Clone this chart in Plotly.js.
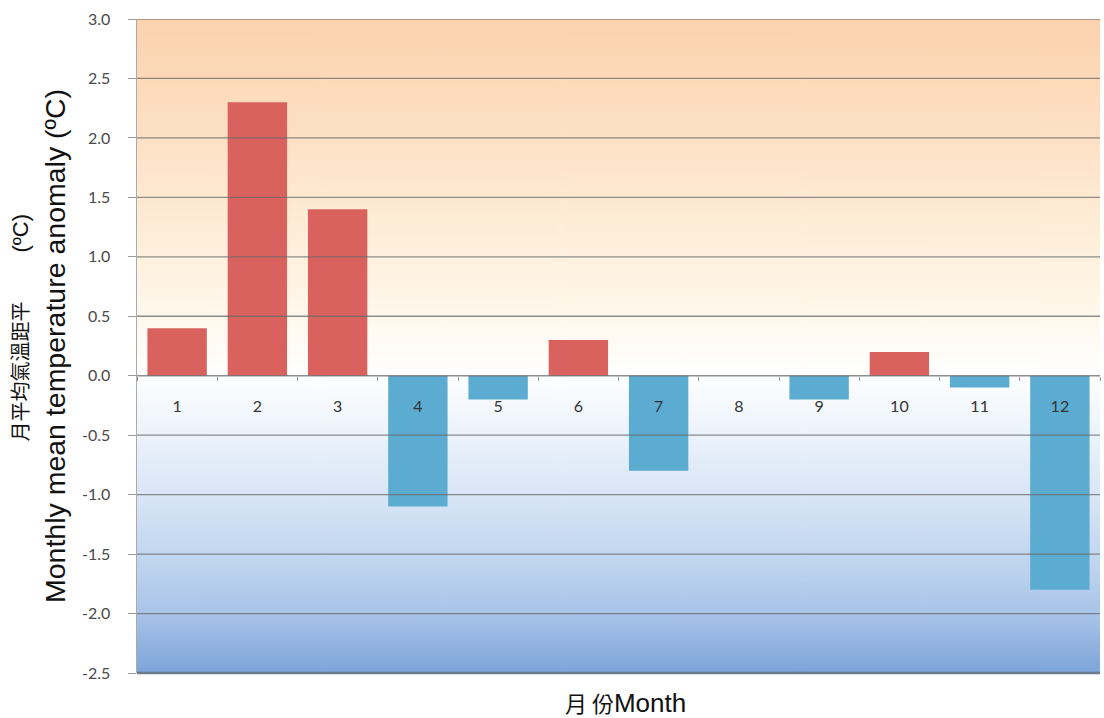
<!DOCTYPE html>
<html>
<head>
<meta charset="utf-8">
<script src="https://cdn.plot.ly/plotly-3.0.1.min.js"></script>
<style>html,body{margin:0;padding:0;background:#fff;}#chart{width:1104px;height:718px;}</style>
</head>
<body>
<div id="chart"></div>
<script>
var months = ["1","2","3","4","5","6","7","8","9","10","11","12"];
var anomaly = [0.4, 2.3, 1.4, -1.1, -0.2, 0.3, -0.8, 0.0, -0.2, 0.2, -0.1, -1.8];
var yTickValues = [-2.5, -2.0, -1.5, -1.0, -0.5, 0.0, 0.5, 1.0, 1.5, 2.0, 2.5, 3.0];
var yTickText = ["-2.5","-2.0","-1.5","-1.0","-0.5","0.0","0.5","1.0","1.5","2.0","2.5","3.0"];
var yRange = [-2.5, 3.0];

// background gradient image (top = 3.0, bottom = -2.5)
function frac(v){ return (yRange[1] - v) / (yRange[1] - yRange[0]); }
var cv = document.createElement('canvas');
cv.width = 8; cv.height = 550;
var ctx = cv.getContext('2d');
var g = ctx.createLinearGradient(0, 0, 0, 550);
g.addColorStop(frac(3.0), '#FBD2AD');
g.addColorStop(frac(2.0), '#FDE1C5');
g.addColorStop(frac(1.0), '#FEF1DE');
g.addColorStop(frac(0.5), '#FFF8EC');
g.addColorStop(frac(0.02), '#FFFFFF');
g.addColorStop(frac(-0.5), '#EBF3FC');
g.addColorStop(frac(-1.0), '#D9E6F6');
g.addColorStop(frac(-1.5), '#C3D7F0');
g.addColorStop(frac(-2.0), '#A9C4E9');
g.addColorStop(frac(-2.5), '#7DA4DA');
ctx.fillStyle = g;
ctx.fillRect(0, 0, 8, 550);
var bgURL = cv.toDataURL('image/png');

var colors = anomaly.map(function(v){ return v >= 0 ? '#D9625E' : '#5CABD1'; });

var zeroPos = (0 - yRange[0]) / (yRange[1] - yRange[0]);

var shapes = yTickValues.filter(function(v){ return v > yRange[0]; }).map(function(v){
  return {type:'line', xref:'paper', yref:'y', x0:0, x1:1, y0:v, y1:v,
          line:{color:'rgba(105,105,105,0.75)', width:1.3}, layer:'above'};
});
shapes.push({type:'line', xref:'paper', yref:'paper', x0:0, x1:1, y0:0, y1:0,
             line:{color:'#6c7c8e', width:2.5}, layer:'above'});

var trace = {
  type:'bar', x: months, y: anomaly,
  marker:{color: colors, line:{width:0}},
  hoverinfo:'x+y'
};

var nb = '&nbsp;';
var cjkTitle = '<span style="font-size:22px">' + nb.repeat(6) + '</span>' +
  '<span style="font-size:20px;font-family:\'Noto Sans CJK TC\'">月平均氣溫距平</span>' +
  '<span style="font-size:22px">' + nb.repeat(8) + '(ºC)</span>';

var layout = {
  width:1104, height:718,
  margin:{l:137, r:4, t:19, b:45},
  paper_bgcolor:'#ffffff',
  plot_bgcolor:'rgba(0,0,0,0)',
  bargap:0.26,
  showlegend:false,
  font:{family:'Lato, "Open Sans", sans-serif'},
  images:[{source:bgURL, xref:'paper', yref:'paper', x:0, y:1, sizex:1, sizey:1,
           sizing:'stretch', xanchor:'left', yanchor:'top', layer:'below'}],
  xaxis:{
    type:'category', anchor:'free', position: zeroPos,
    showgrid:false, zeroline:false, showline:false,
    ticks:'outside', tickson:'boundaries', ticklen:4, tickcolor:'#999',
    tickfont:{size:16, color:'#333', family:'Lato, "Open Sans", sans-serif'},
    ticklabelstandoff: 19
  },
  yaxis:{
    range: yRange, tickvals: yTickValues, ticktext: yTickText,
    showgrid:false, zeroline:false,
    showline:true, linecolor:'#aaaaaa', linewidth:1.5,
    ticks:'outside', ticklen:8, tickcolor:'#999',
    tickfont:{size:16, color:'#4a4a4a'},
    ticklabelstandoff: 14,
    title:{
      text: cjkTitle + '<br>Monthly mean temperature anomaly (ºC)',
      font:{size:28.5, color:'#111', family:'"Liberation Sans", Arial, sans-serif'},
      standoff: 8
    }
  },
  shapes: shapes,
  annotations:[{
    xref:'paper', yref:'paper', x:0.507, y:0, yshift:-29, yanchor:'middle', showarrow:false,
    text:'<span style="font-family:\'Noto Sans CJK TC\';font-size:22px">月 份</span>Month',
    font:{size:26, color:'#111', family:'"Liberation Sans", Arial, sans-serif'}
  }]
};

Plotly.newPlot('chart', [trace], layout, {displayModeBar:false, staticPlot:true});
</script>
</body>
</html>
